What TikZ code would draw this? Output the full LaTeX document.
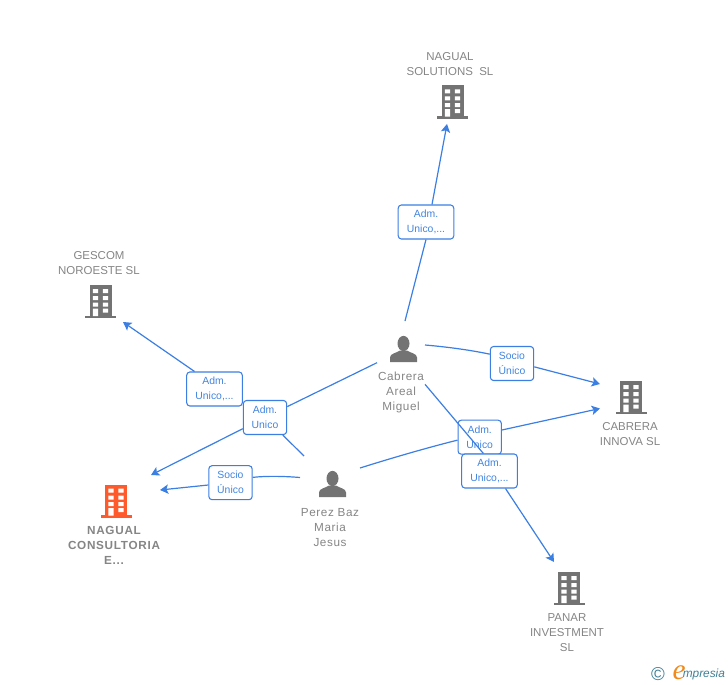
\documentclass[tikz,border=0pt]{standalone}
\usepackage{fontspec}
\setmainfont{Liberation Sans}
\newfontfamily\logofont{Liberation Serif}
\usetikzlibrary{arrows.meta}
\pgfdeclarelayer{under}
\pgfdeclarelayer{over}
\pgfdeclarelayer{top}
\pgfsetlayers{under,main,over,top}
\definecolor{linkblue}{HTML}{3B7FE3}
\definecolor{boxtext}{HTML}{4285E0}
\definecolor{iconGray}{HTML}{737373}
\definecolor{labelGray}{HTML}{858585}
\definecolor{mainOrange}{HTML}{FF5A2B}
\definecolor{logoTeal}{HTML}{3F7F96}
\definecolor{logoOrange}{HTML}{F08A1D}
\tikzset{
  conn/.style={draw=linkblue,line width=0.9pt},
  arr/.style={conn,-{Stealth[length=6.2pt,width=7pt,inset=1.4pt]}},
  rolebox/.style={draw=linkblue,line width=0.8pt,rounded corners=2.4pt,fill=white,text=boxtext,
    align=center,inner sep=0pt,minimum height=25.5pt,
    font=\fontsize{7.8}{11.2}\selectfont,
    execute at begin node={\rule{0pt}{7.1pt}}},
  narrowbox/.style={rolebox,minimum width=32.5pt},
  widebox/.style={rolebox,minimum width=41.7pt},
  entity/.style={text=labelGray,align=center,inner sep=0pt,font=\fontsize{8.6}{11.2}\selectfont},
  person name/.style={entity,font=\fontsize{8.8}{11.2}\selectfont\addfontfeature{LetterSpace=5}},
  main name/.style={entity,font=\fontsize{8.8}{11.2}\selectfont\bfseries\addfontfeature{LetterSpace=6}},
  pics/building/.style={code={
    \fill[#1] (-11,-16) rectangle (11,15);
    \fill[#1] (-15.5,14.5) rectangle (15.5,17);
    \fill[white] (-7.7,-12) rectangle (-2.3,-8) (2.3,-12) rectangle (7.7,-8)
                 (-7.7,-5) rectangle (-2.3,-1) (2.3,-5) rectangle (7.7,-1)
                 (-7.7,1.5) rectangle (-2.3,5.5) (2.3,1.5) rectangle (7.7,5.5)
                 (-7.7,7.5) rectangle (-2.3,15) (2.3,7.5) rectangle (7.7,11.5);
  }},
  pics/person/.style={code={
    \fill[#1] (0,-5.5) ellipse (6 and 7.6);
    \fill[#1] (-13.5,13) -- (-13.5,8.5) .. controls (-13.5,4.5) and (-7,4) .. (-3.5,1.5)
      -- (3.5,1.5) .. controls (7,4) and (13.5,4.5) .. (13.5,8.5) -- (13.5,13) -- cycle;
  }}
}
\begin{document}
\begin{tikzpicture}[x=0.75pt,y=-0.75pt]
\useasboundingbox (0,0) rectangle (728,685);
% icons
\pic at (452.5,101.5) {building=iconGray};
\pic at (100.5,301) {building=iconGray};
\pic at (631,397) {building=iconGray};
\pic at (569,588) {building=iconGray};
\pic at (116,500.5) {building=mainOrange};
\pic at (403.5,349) {person=iconGray};
\pic at (332.5,484) {person=iconGray};
% entity labels
\node[entity] (lsol) at (450,64.3) {NAGUAL\\SOLUTIONS\ \ SL};
\node[entity] (lges) at (99,263) {GESCOM\\NOROESTE SL};
\node[entity] (linn) at (630,434) {CABRERA\\INNOVA SL};
\node[entity] (lpan) at (567,632.5) {PANAR\\INVESTMENT\\SL};
\node[main name] (lcon) at (114,545.5) {NAGUAL\\CONSULTORIA\\E...};
\node[person name] (lcab) at (401,392.7) {Cabrera\\Areal\\Miguel};
\node[person name] (lper) at (330,527.5) {Perez Baz\\Maria\\Jesus};
% free ends
\coordinate (cabTop) at (405,321);
\coordinate (cabRight) at (425,345);
\coordinate (cabLow) at (425,384.3);
\coordinate (cabLeft) at (377,362.7);
\coordinate (perUp) at (304,456);
\coordinate (perLeft) at (300,477.5);
\coordinate (perRight) at (360,468);
\coordinate (toSol) at (447,124);
\coordinate (toInnA) at (600,384);
\coordinate (toInnB) at (600,408.5);
\coordinate (toPan) at (554,562);
\coordinate (toGes) at (123,322);
\coordinate (toConA) at (151,475);
\coordinate (toConB) at (160,490);
% role boxes
\node[widebox] (bSol) at (426,222) {Adm.\\Unico,...};
\node[narrowbox] (bInn) at (512,363.5) {Socio\\Único};
\node[narrowbox] (bAU) at (479.7,437.2) {Adm.\\Unico};
\begin{pgfonlayer}{top}
\node[widebox] (bPan) at (489.5,471) {Adm.\\Unico,...};
\end{pgfonlayer}
\node[widebox] (bGes) at (214.5,389) {Adm.\\Unico,...};
\node[narrowbox] (bCon) at (265,417.5) {Adm.\\Unico};
\node[narrowbox] (bSoc) at (230.5,482.7) {Socio\\Único};
% connectors
\begin{pgfonlayer}{under}
\draw[conn] (cabTop) -- (bSol.south);
\draw[arr] ([xshift=4.5pt]bSol.north) -- (toSol);
\draw[conn] (cabRight) .. controls (448,347) and (470,350) .. ([yshift=7pt]bInn.west);
\draw[arr] ([yshift=-2.5pt]bInn.east) -- (toInnA);
\draw[conn] (perRight) .. controls (395,457) and (430,447) .. ([yshift=-2.2pt]bAU.west);
\draw[arr] ([yshift=5.4pt]bAU.east) -- (toInnB);
\draw[conn] (cabLeft) -- (bCon);
\draw[arr] (bCon) -- (toConA);
\draw[conn] (perUp) -- (bCon);
\draw[conn] (bCon) -- (bGes);
\draw[arr] ([xshift=-15pt]bGes.north) -- (toGes);
\draw[conn] (perLeft) .. controls (282,476) and (265,476) .. ([yshift=4pt]bSoc.east);
\draw[arr] (bSoc) -- (toConB);
\draw[arr] ([xshift=12pt]bPan.south) -- (toPan);
\end{pgfonlayer}
\begin{pgfonlayer}{over}
\draw[conn] (cabLow) -- ([xshift=-4.6pt]bPan.north);
\end{pgfonlayer}
% logo
\node[text=logoTeal,inner sep=0pt,font=\fontsize{14}{14}\selectfont] (logoC) at (658,674) {©};
\node[anchor=base west,inner sep=0pt,font=\itshape\fontsize{8.9}{11}\selectfont,text=logoTeal] (logoT) at (682.5,677.5) {mpresia};
\node[anchor=base east,inner sep=0pt,font=\logofont\itshape\fontsize{22}{22}\selectfont,text=logoOrange] (logoE) at (686,679.5) {e};
\end{tikzpicture}
\end{document}
